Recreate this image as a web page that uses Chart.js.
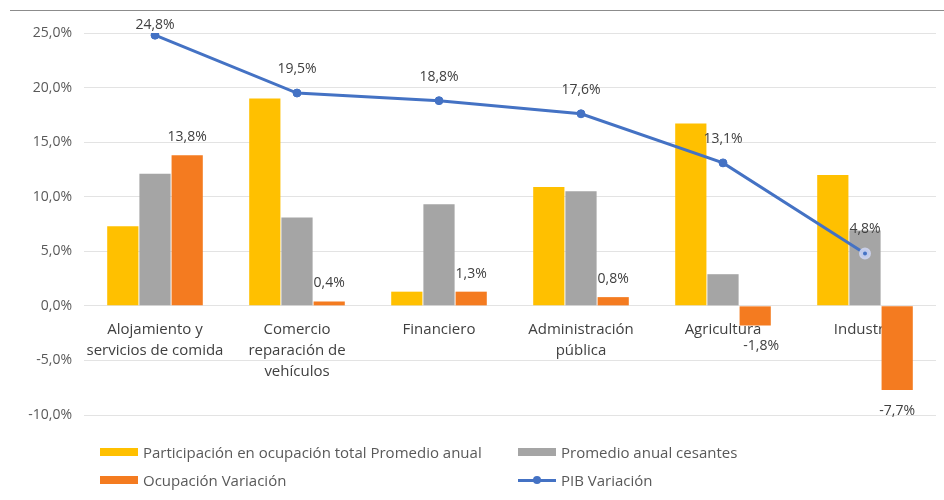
<!DOCTYPE html>
<html>
<head>
<meta charset="utf-8">
<script src="https://cdn.jsdelivr.net/npm/chart.js@4/dist/chart.umd.min.js"></script>
<style>
  html, body { margin: 0; padding: 0; background: #fff; }
  #wrap { position: relative; width: 944px; height: 500px; overflow: hidden; }
  #topline { position: absolute; left: 10px; right: 0; top: 10px; height: 0; border-top: 1px solid #8c8c8c; }
  #legend { position: absolute; left: 0; top: 440px; width: 944px; font: 15px "Open Sans", sans-serif; color: #595959; }
  .item { position: absolute; display: flex; align-items: center; height: 22px; }
  .sw { width: 38px; height: 8px; margin-right: 5px; }
  .ln { position: relative; width: 38px; height: 3px; background: #4472C4; margin-right: 5px; }
  .ln::after { content: ""; position: absolute; left: 15px; top: -2.5px; width: 8px; height: 8px; border-radius: 50%; background: #4472C4; }
</style>
</head>
<body>
<div id="wrap">
  <canvas id="chart" width="944" height="500"></canvas>
  <div id="topline"></div>
  <div id="legend"></div>
</div>
<script>
// datos
const categories = [
  ['Alojamiento y', 'servicios de comida'],
  ['Comercio', 'reparación de', 'vehículos'],
  'Financiero',
  ['Administración', 'pública'],
  'Agricultura',
  'Industria'
];
const participacion = [7.3, 19.0, 1.3, 10.9, 16.7, 12.0];
const cesantes = [12.1, 8.1, 9.3, 10.5, 2.9, 6.9];
const ocupacionVar = [13.8, 0.4, 1.3, 0.8, -1.8, -7.7];
const pibVar = [24.8, 19.5, 18.8, 17.6, 13.1, 4.8];

const seriesNames = [
  'Participación en ocupación total Promedio anual',
  'Promedio anual cesantes',
  'Ocupación Variación',
  'PIB Variación'
];
const colors = ['#FFC000', '#A5A5A5', '#F47B20', '#4472C4'];

const fmt = v => v.toFixed(1).replace('.', ',') + '%';
const FONT = '"Open Sans", sans-serif';

// etiquetas de datos (ocupación y PIB)
const valueLabels = {
  id: 'valueLabels',
  afterDatasetsDraw(c) {
    const ctx = c.ctx;
    ctx.save();
    ctx.font = '14px ' + FONT;
    ctx.fillStyle = '#404040';
    ctx.textAlign = 'center';
    ctx.textBaseline = 'middle';
    c.getDatasetMeta(2).data.forEach((bar, i) => {
      const v = ocupacionVar[i];
      const y = v >= 0 ? bar.y - 18 : bar.y + 21;
      ctx.fillText(fmt(v), bar.x + (v < 0 && i === 4 ? 6 : 0), y);
    });
    c.getDatasetMeta(3).data.forEach((pt, i) => {
      ctx.fillText(fmt(pibVar[i]), pt.x, Math.max(pt.y - 24, 25));
    });
    ctx.restore();
  }
};

new Chart(document.getElementById('chart'), {
  data: {
    labels: categories,
    datasets: [
      { type: 'bar', label: seriesNames[0], data: participacion, backgroundColor: colors[0], order: 1 },
      { type: 'bar', label: seriesNames[1], data: cesantes, backgroundColor: colors[1], order: 1 },
      { type: 'bar', label: seriesNames[2], data: ocupacionVar, backgroundColor: colors[2], order: 1 },
      { type: 'line', label: seriesNames[3], data: pibVar, borderColor: colors[3], backgroundColor: colors[3],
        borderWidth: 3, pointRadius: 4, pointBackgroundColor: colors[3],
        pointBorderColor: [colors[3], colors[3], colors[3], colors[3], colors[3], 'rgba(205,212,240,0.9)'],
        pointBorderWidth: [1, 1, 1, 1, 1, 4],
        tension: 0, order: 0 }
    ]
  },
  options: {
    responsive: false,
    animation: false,
    layout: { padding: { top: 33, right: 4, bottom: 85, left: 0 } },
    datasets: { bar: { categoryPercentage: 0.68, barPercentage: 0.97 } },
    plugins: { legend: { display: false }, tooltip: { enabled: false } },
    scales: {
      x: {
        position: { y: 0 },
        grid: { display: false },
        border: { display: false },
        ticks: { color: '#404040', font: { family: FONT, size: 15, lineHeight: 1.4 }, padding: 5, maxRotation: 0, autoSkip: false }
      },
      y: {
        min: -10, max: 25,
        afterFit(s) { s.width = 84; },
        grid: { color: '#E3E3E3', drawTicks: false },
        border: { display: false },
        ticks: { stepSize: 5, color: '#595959', padding: 12, font: { family: FONT, size: 14 }, callback: v => fmt(v) }
      }
    }
  },
  plugins: [valueLabels]
});

// leyenda en dos columnas
const legend = document.getElementById('legend');
const pos = [[100, 1], [518, 1], [100, 29], [518, 29]];
seriesNames.forEach((name, i) => {
  const d = document.createElement('div');
  d.className = 'item';
  d.style.left = pos[i][0] + 'px';
  d.style.top = pos[i][1] + 'px';
  const m = document.createElement('span');
  if (i === 3) { m.className = 'ln'; } else { m.className = 'sw'; m.style.background = colors[i]; }
  d.appendChild(m);
  d.appendChild(document.createTextNode(name));
  legend.appendChild(d);
});
</script>
</body>
</html>
